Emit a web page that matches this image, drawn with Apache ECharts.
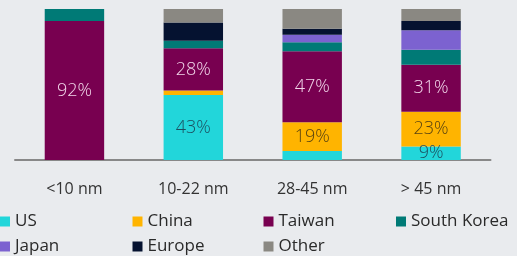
<!DOCTYPE html>
<html><head><meta charset="utf-8">
<script src="https://cdn.jsdelivr.net/npm/echarts@6/dist/echarts.min.js"></script>
<style>html,body{margin:0;padding:0;background:#e9ebee;}#c{width:517px;height:256px;}</style>
</head><body><div id="c"></div>
<script>
const categories = ['<10 nm', '10-22 nm', '28-45 nm', '> 45 nm'];
const US = [0, 43, 6, 9];
const China = [0, 3, 19, 23];
const Taiwan = [92, 28, 47, 31];
const SouthKorea = [8, 5, 6, 10];
const Japan = [0, 0, 5, 13];
const Europe = [0, 12, 4, 6];
const Other = [0, 9, 13, 8];
// which values carry a label
const labeled = {
  'US': [false, true, false, true],
  'China': [false, false, true, true],
  'Taiwan': [true, true, true, true]
};
const seriesDefs = [
  ['US', US, '#22d6da', '#1c4f60'],
  ['China', China, '#ffb400', '#5a4410'],
  ['Taiwan', Taiwan, '#780050', '#f2d6ea'],
  ['South Korea', SouthKorea, '#007a76', '#fff'],
  ['Japan', Japan, '#7c62d0', '#fff'],
  ['Europe', Europe, '#051230', '#fff'],
  ['Other', Other, '#8a8882', '#fff']
];
const chart = echarts.init(document.getElementById('c'));
const series = seriesDefs.map(([name, vals, color, lc]) => ({
  name, type: 'bar', stack: 'all', barWidth: '50%',
  itemStyle: { color },
  data: vals.map((v, i) => ({
    value: v,
    label: { show: !!(labeled[name] && labeled[name][i]) }
  })),
  label: {
    position: 'inside', color: lc, fontSize: 18, fontFamily: 'Open Sans', fontWeight: 300,
    formatter: p => p.value + '%'
  }
}));
const legText = { fontSize: 17, color: '#2a2a2a', fontFamily: 'Open Sans' };
const colX = [0, 132.5, 263.5, 396];
const rowY = [213, 238];
const legends = seriesDefs.map(([name], i) => ({
  data: [name], left: colX[i % 4], top: rowY[Math.floor(i / 4)], padding: 0,
  itemWidth: 10, itemHeight: 10, icon: 'rect', textStyle: legText, selectedMode: false
}));
chart.setOption({
  animation: false,
  backgroundColor: '#e9ebee',
  grid: { left: 15, right: 26.5, top: 9, bottom: 96 },
  xAxis: {
    type: 'category', data: categories,
    axisLine: { lineStyle: { color: '#888', width: 2 } },
    axisTick: { show: false },
    axisLabel: { fontSize: 16, color: '#333', fontFamily: 'Open Sans', margin: 21 }
  },
  yAxis: { type: 'value', min: 0, max: 100, show: false, splitLine: { show: false } },
  legend: legends,
  series
});
</script></body></html>
